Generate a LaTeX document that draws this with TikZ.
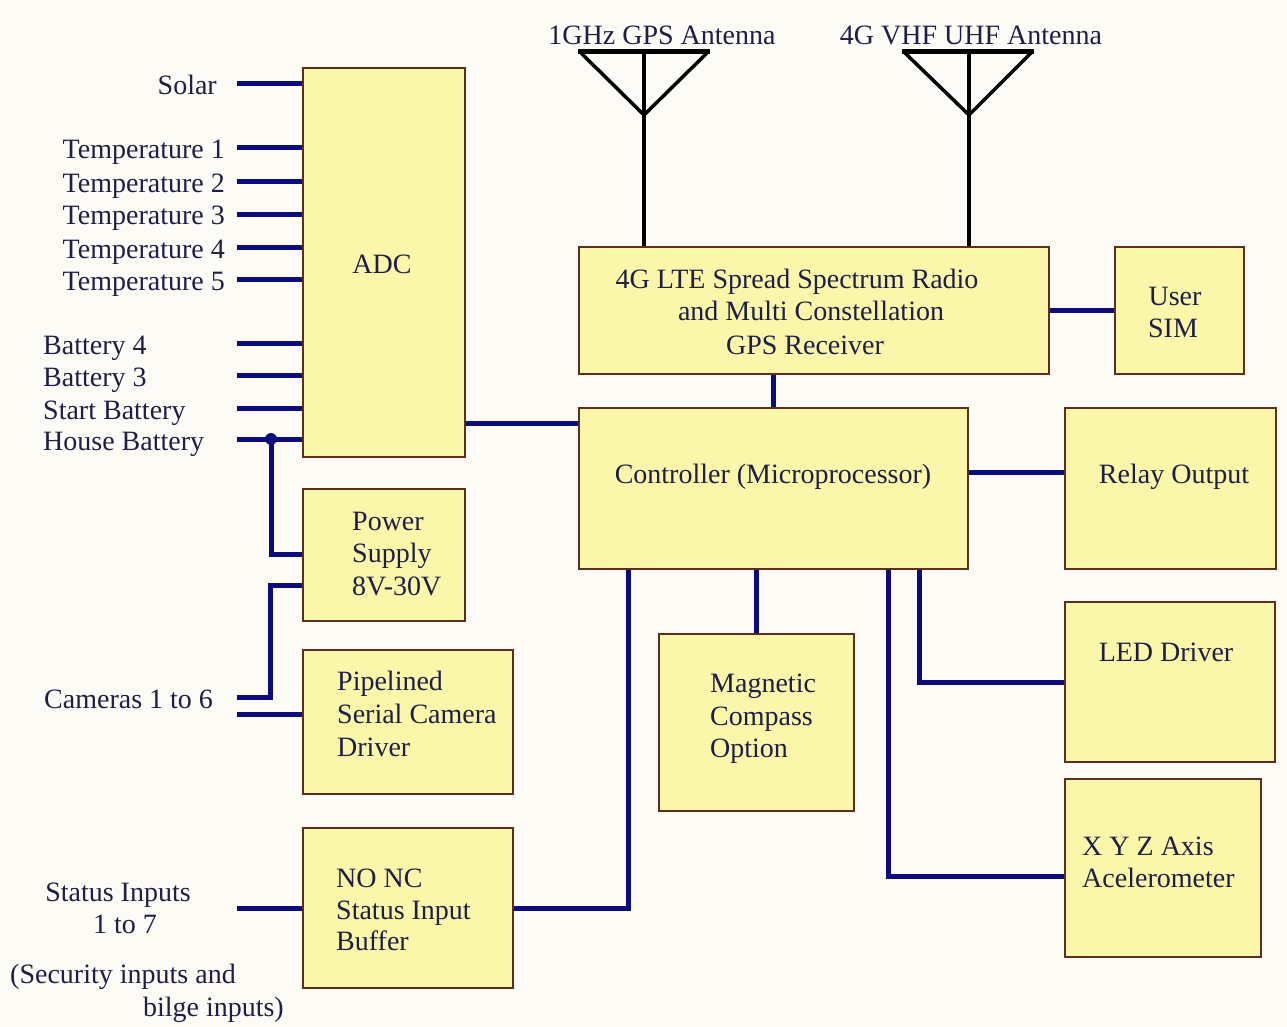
\documentclass[tikz,border=0pt]{standalone}
\usepackage{fontspec}
\setmainfont{Liberation Serif}
\definecolor{bgc}{RGB}{253,251,245}
\definecolor{boxfill}{RGB}{250,246,170}
\definecolor{boxline}{RGB}{95,45,30}
\definecolor{wirec}{RGB}{12,12,125}
\definecolor{txt}{RGB}{30,30,70}
\begin{document}
\begin{tikzpicture}[x=1pt,y=-1pt,
  box/.style={draw=boxline, fill=boxfill, line width=1.8pt, rectangle, inner sep=0pt},
  wire/.style={draw=wirec, line width=5pt},
  ant/.style={draw=black, line width=3.5pt},
  antbar/.style={draw=black, line width=5pt},
  lbl/.style={text=txt, font=\fontsize{28}{32}\selectfont, inner sep=0pt}]
\useasboundingbox (0,0) rectangle (1287,1027);
\fill[bgc] (0,0) rectangle (1287,1027);

% boxes
\node[box, minimum width=162, minimum height=389] (adc) at (384,262.5) {};
\node[box, minimum width=162, minimum height=132] (ps) at (384,555) {};
\node[box, minimum width=210, minimum height=144] (cam) at (408,722) {};
\node[box, minimum width=210, minimum height=160] (stat) at (408,908) {};
\node[box, minimum width=470, minimum height=127] (radio) at (814,310.5) {};
\node[box, minimum width=129, minimum height=127] (sim) at (1179.5,310.5) {};
\node[box, minimum width=389, minimum height=161] (ctrl) at (773.5,488.5) {};
\node[box, minimum width=211, minimum height=161] (relay) at (1170.5,488.5) {};
\node[box, minimum width=195, minimum height=177] (comp) at (756.5,722.5) {};
\node[box, minimum width=210, minimum height=160] (led) at (1170,682) {};
\node[box, minimum width=196, minimum height=178] (acc) at (1163,868) {};

% box texts
\node[lbl, anchor=base] (tadc) at (382,273) {ADC};
\node[lbl, anchor=base] (tr1) at (797,288) {4G LTE Spread Spectrum Radio};
\node[lbl, anchor=base] (tr2) at (811,320) {and Multi Constellation};
\node[lbl, anchor=base] (tr3) at (805,354) {GPS Receiver};
\node[lbl, anchor=base] (tsim1) at (1175,305) {User};
\node[lbl, anchor=base] (tsim2) at (1173,337) {SIM};
\node[lbl, anchor=base] (tctrl) at (773,483) {Controller (Microprocessor)};
\node[lbl, anchor=base] (trelay) at (1174,483) {Relay Output};
\node[lbl, anchor=base west] (tps1) at (352,530) {Power};
\node[lbl, anchor=base west] (tps2) at (352,562) {Supply};
\node[lbl, anchor=base west] (tps3) at (352,595) {8V-30V};
\node[lbl, anchor=base west] (tcam1) at (337,690) {Pipelined};
\node[lbl, anchor=base west] (tcam2) at (337,723) {Serial Camera};
\node[lbl, anchor=base west] (tcam3) at (337,756) {Driver};
\node[lbl, anchor=base west] (tst1) at (336,887) {NO NC};
\node[lbl, anchor=base west] (tst2) at (336,919) {Status Input};
\node[lbl, anchor=base west] (tst3) at (336,950) {Buffer};
\node[lbl, anchor=base west] (tcp1) at (710,692) {Magnetic};
\node[lbl, anchor=base west] (tcp2) at (710,725) {Compass};
\node[lbl, anchor=base west] (tcp3) at (710,757) {Option};
\node[lbl, anchor=base] (tled) at (1166,661) {LED Driver};
\node[lbl, anchor=base west] (tacc1) at (1082,855) {X Y Z Axis};
\node[lbl, anchor=base west] (tacc2) at (1082,887) {Acelerometer};

% left labels
\node[lbl, anchor=base east] (lsolar) at (217,95) {Solar};
\node[lbl, anchor=base east] (lt1) at (225,159) {Temperature 1};
\node[lbl, anchor=base east] (lt2) at (225,193) {Temperature 2};
\node[lbl, anchor=base east] (lt3) at (225,225) {Temperature 3};
\node[lbl, anchor=base east] (lt4) at (225,258) {Temperature 4};
\node[lbl, anchor=base east] (lt5) at (225,290) {Temperature 5};
\node[lbl, anchor=base west] (lb4) at (43,354) {Battery 4};
\node[lbl, anchor=base west] (lb3) at (43,386) {Battery 3};
\node[lbl, anchor=base west] (lbs) at (43,419) {Start Battery};
\node[lbl, anchor=base west] (lbh) at (43,450) {House Battery};
\node[lbl, anchor=base west] (lcam) at (44,708) {Cameras 1 to 6};
\node[lbl, anchor=base] (lsi1) at (118,901) {Status Inputs};
\node[lbl, anchor=base] (lsi2) at (125,933) {1 to 7};
\node[lbl, anchor=base] (lsi3) at (123,983) {(Security inputs and};
\node[lbl, anchor=base east] (lsi4) at (284,1016) {bilge inputs)};

% antennas
\node[lbl, anchor=base] (lgps) at (662,45) {1GHz GPS Antenna};
\node[lbl, anchor=base] (lvhf) at (971,45) {4G VHF UHF Antenna};
\coordinate (gpsV) at (644,115);
\coordinate (vhfV) at (969,115);
\draw[antbar] (578,52) -- (710,52);
\draw[ant] (581,53) -- (gpsV) -- (707,53);
\draw[ant] (gpsV |- 0,52) -- (gpsV |- radio.north);
\draw[antbar] (902,52) -- (1034,52);
\draw[ant] (905,53) -- (vhfV) -- (1031,53);
\draw[ant] (vhfV |- 0,52) -- (vhfV |- radio.north);

% ADC inputs
\foreach \n/\y in {solar/84,t1/148,t2/182,t3/214,t4/247,t5/279,b4/343,b3/375,bs/408,bh/439}{
  \coordinate (in\n) at (237,\y);
  \draw[wire] (in\n) -- (in\n -| adc.west);
}
% house battery to power supply
\coordinate (hj) at (271,439);
\coordinate (hp) at (271,554);
\fill[wirec] (hj) circle (6);
\draw[wire] (hj) -- (hp) -- (hp -| ps.west);
% cameras
\coordinate (cpA) at (237,697);
\coordinate (cpB) at (270,697);
\coordinate (cpC) at (270,585);
\draw[wire] (cpA) -- (cpB) -- (cpC) -- (cpC -| ps.west);
\coordinate (ccA) at (237,714);
\draw[wire] (ccA) -- (ccA -| cam.west);
% status inputs
\coordinate (siA) at (237,908);
\draw[wire] (siA) -- (siA -| stat.west);
\coordinate (sx) at (628,908);
\draw[wire] (stat.east |- sx) -- (sx) -- (sx |- ctrl.south);
% ADC to controller
\coordinate (ac) at (520,423);
\draw[wire] (ac -| adc.east) -- (ac -| ctrl.west);
% radio to controller / sim
\draw[wire] (ctrl.north) -- (ctrl.north |- radio.south);
\draw[wire] (radio.east |- 0,310) -- (sim.west |- 0,310);
% relay
\coordinate (rl) at (1000,472);
\draw[wire] (rl -| ctrl.east) -- (rl -| relay.west);
% compass
\draw[wire] (comp.north) -- (comp.north |- ctrl.south);
% LED
\coordinate (lx) at (919,682);
\draw[wire] (lx |- ctrl.south) -- (lx) -- (lx -| led.west);
% accelerometer
\coordinate (ax) at (888,876);
\draw[wire] (ax |- ctrl.south) -- (ax) -- (ax -| acc.west);
\end{tikzpicture}
\end{document}
